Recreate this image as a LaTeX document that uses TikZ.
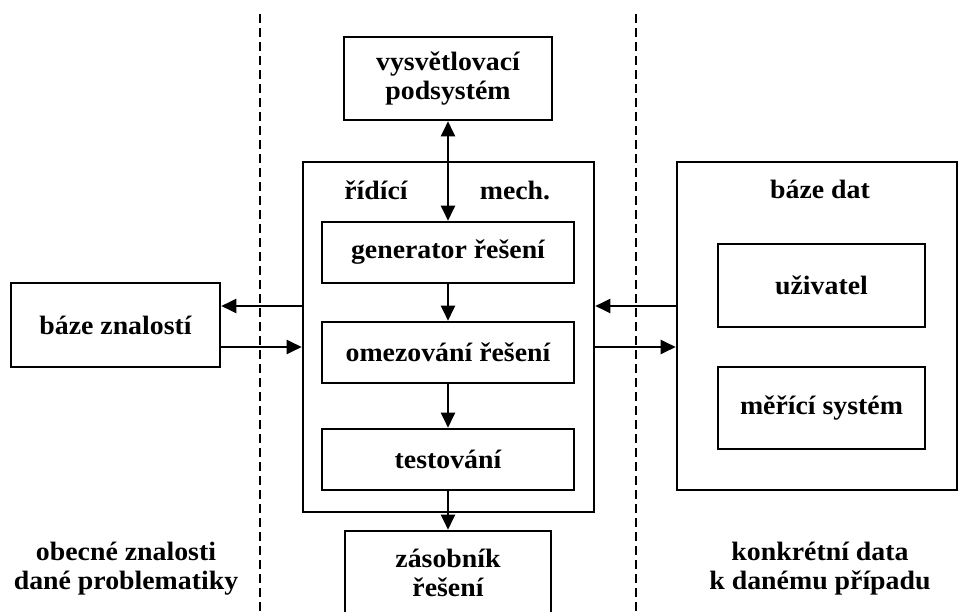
\documentclass[tikz,border=0pt]{standalone}
\usepackage{fontspec}
\setmainfont{Liberation Serif}[FakeStretch=1.05]
\usetikzlibrary{arrows.meta,calc}
\begin{document}
\begin{tikzpicture}[x=1pt,y=-1pt,
  txt/.style={font=\fontsize{26.5}{29}\selectfont\bfseries, align=center, inner sep=0pt},
  box/.style={txt, draw, line width=2.6pt},
  arr/.style={line width=2.2pt, -{Triangle[length=15pt,width=14pt]}},
  darr/.style={line width=2.2pt, {Triangle[length=15pt,width=14pt]}-{Triangle[length=15pt,width=14pt]}},
  sep/.style={line width=2.2pt, dash pattern=on 9pt off 5pt}]
\useasboundingbox (0,0) rectangle (960,612);
% boxes
\node[box, minimum width=208pt, minimum height=83pt] (vys) at (448,78.5) {vysvětlovací\\podsystém};
\node[box, minimum width=291pt, minimum height=350pt] (ridi) at (448.5,337) {};
\node[txt] (ridiL) at (376,190) {řídící};
\node[txt] (ridiR) at (515,190) {mech.};
\node[box, minimum width=252pt, minimum height=61pt] (gen) at (448,252.5) {generator řešení};
\node[box, minimum width=252pt, minimum height=61pt] (ome) at (448,352.5) {omezování řešení};
\node[box, minimum width=252pt, minimum height=61pt] (test) at (448,459.5) {testování};
\node[box, minimum width=206pt, minimum height=83pt] (zas) at (448,572.5) {zásobník\\řešení};
\node[box, minimum width=209pt, minimum height=84pt] (bz) at (115.5,325) {báze znalostí};
\node[box, minimum width=280pt, minimum height=328pt] (bd) at (817,326) {};
\node[txt] (bdL) at (820,189) {báze dat};
\node[box, minimum width=207pt, minimum height=83pt] (uz) at (821.5,285.5) {uživatel};
\node[box, minimum width=207pt, minimum height=82pt] (mer) at (821.5,408) {měřící systém};
\node[txt] (obL) at (126,569) {obecné znalosti\\dané problematiky};
\node[txt] (koL) at (820,569) {konkrétní data\\k danému případu};
% separators
\coordinate (s1t) at (260,14);
\coordinate (s1b) at (260,612);
\coordinate (s2t) at (636,14);
\coordinate (s2b) at (636,612);
\draw[sep] (s1t) -- (s1b);
\draw[sep] (s2t) -- (s2b);
% arrows
\draw[darr] (vys.south) -- (gen.north);
\draw[arr] (gen.south) -- (ome.north);
\draw[arr] (ome.south) -- (test.north);
\draw[arr] (test.south) -- (zas.north);
\draw[arr] ($(ridi.west|-bz.east)+(0,-19)$) -- ($(bz.east)+(0,-19)$);
\draw[arr] ($(bz.east)+(0,22)$) -- ($(ridi.west|-bz.east)+(0,22)$);
\draw[arr] ($(bd.west|-bz.east)+(0,-19)$) -- ($(ridi.east|-bz.east)+(0,-19)$);
\draw[arr] ($(ridi.east|-bz.east)+(0,22)$) -- ($(bd.west|-bz.east)+(0,22)$);
\end{tikzpicture}
\end{document}
